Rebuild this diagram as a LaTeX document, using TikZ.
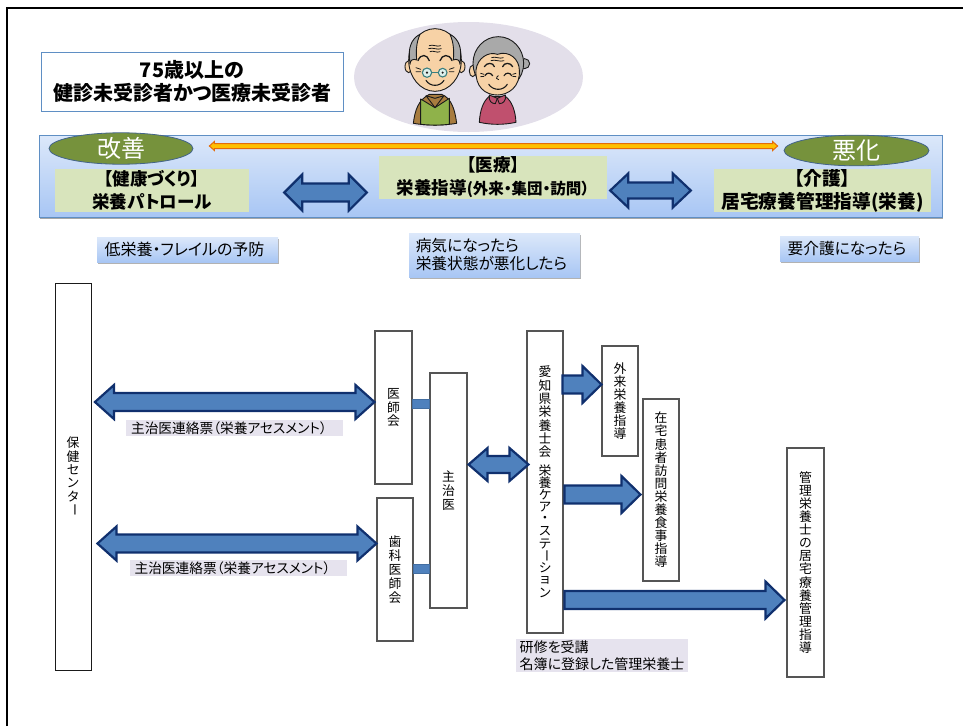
\documentclass[tikz,border=0pt]{standalone}
\usepackage{fontspec}
\setmainfont[RawFeature={+palt}]{Noto Sans CJK JP}
\usetikzlibrary{calc,shadows,shapes.geometric}
\definecolor{navy}{HTML}{10306E}
\definecolor{arrowblue}{HTML}{4F81BD}
\definecolor{framegray}{HTML}{555555}
\definecolor{bandedge}{HTML}{5F8FC4}
\definecolor{greenpan}{HTML}{D8E4BC}
\definecolor{olive}{HTML}{76923C}
\definecolor{lav}{HTML}{E6E3EE}
\definecolor{ovalfill}{HTML}{E3DFEA}
\definecolor{skin}{HTML}{F7D2A6}
\definecolor{hair}{HTML}{A9A9A9}
\definecolor{ink}{HTML}{1A1A1A}
\definecolor{bandtop}{HTML}{DCE8FA}
\definecolor{bandbot}{HTML}{A8C6F4}
\definecolor{coat}{HTML}{A87C3F}
\definecolor{vest}{HTML}{8FB24A}
\definecolor{dress}{HTML}{C0506E}
\definecolor{lens}{HTML}{DDF0EC}
\definecolor{lensline}{HTML}{3A7F7F}
\definecolor{orangefill}{HTML}{FFC000}
\definecolor{orangeline}{HTML}{E46C0A}
\makeatletter
\newcommand\vs[2]{\vbox{\offinterlineskip\@tfor\vc:=#2\do{\vbox to #1pt{\vss\hbox to 18pt{\hss\vc\hss}\vss}}}}
\makeatother
\newcommand\vb{\rotatebox[origin=c]{-90}{ー}}
\newcommand\fs[1]{\fontsize{#1}{#1}\selectfont}
% style, A, dxA, B, dxB, y, shaft half, head half, head length
\newcommand\dblarrow[9]{\draw[#1] let \p1=($(#2 |- 0,#6)+(#3pt,0)$), \p2=($(#4 |- 0,#6)+(#5pt,0)$) in
 (\x1,\y1) -- (\x1+#9pt,\y1+#8pt) -- (\x1+#9pt,\y1+#7pt) -- (\x2-#9pt,\y1+#7pt) -- (\x2-#9pt,\y1+#8pt) -- (\x2,\y1)
 -- (\x2-#9pt,\y1-#8pt) -- (\x2-#9pt,\y1-#7pt) -- (\x1+#9pt,\y1-#7pt) -- (\x1+#9pt,\y1-#8pt) -- cycle;}
\newcommand\sglarrow[9]{\draw[#1] let \p1=($(#2 |- 0,#6)+(#3pt,0)$), \p2=($(#4 |- 0,#6)+(#5pt,0)$) in
 (\x1,\y1+#7pt) -- (\x2-#9pt,\y1+#7pt) -- (\x2-#9pt,\y1+#8pt) -- (\x2,\y1)
 -- (\x2-#9pt,\y1-#8pt) -- (\x2-#9pt,\y1-#7pt) -- (\x1,\y1-#7pt) -- cycle;}
\tikzset{
 x=1pt,y=-1pt,
 blockarrow/.style={fill=arrowblue,draw=navy,line width=2.2pt,line join=miter,miter limit=10},
 thinarrow/.style={fill=orangefill,draw=orangeline,line width=1pt,line join=miter},
 minilink/.style={fill=arrowblue,draw=arrowblue!85!black,line width=1.5pt},
 tallbox/.style={draw=framegray,fill=white,line width=1.1pt,inner sep=0pt,font=\fs{12.8}},
 panel/.style={fill=greenpan,inner sep=0pt,align=center,font=\bfseries\fontsize{17.5}{23}\selectfont},
 oval/.style={shape=ellipse,draw=bandedge!70!black,fill=olive,line width=.8pt,inner sep=0pt,text=white,font=\fs{24}},
 note/.style={top color=bandtop,bottom color=bandbot,inner sep=0pt,align=left,
   font=\fontsize{15.7}{20}\selectfont,drop shadow={shadow xshift=1pt,shadow yshift=-2pt,opacity=.3,fill=black}},
 lavnote/.style={fill=lav,inner sep=0pt,align=left},
 lineart/.style={draw=ink,line width=.9pt,line join=round},
 stroke/.style={draw=ink,line width=.8pt,line cap=round}
}
\begin{document}
\begin{tikzpicture}
\useasboundingbox (0,0) rectangle (963,726);
\draw[black,line width=2pt] (7,726) -- (7,8) -- (963,8);

% title and oval
\node[draw=bandedge,fill=white,line width=1pt,minimum width=302,minimum height=59,inner sep=0pt,align=center,
  font=\bfseries\fontsize{20}{23.5}\selectfont] (title) at (192,81.5) {75歳以上の\\\hspace*{1pt}健診未受診者かつ医療未受診者};
\fill[ovalfill] (468.5,77) ellipse [x radius=114.5,y radius=55];

% elderly couple, in coordinates of a 3x crop
\begin{scope}[shift={(390,15)},x=.3333pt,y=-.3333pt]
 % man: body
 \filldraw[lineart,fill=coat] (70,325) .. controls (75,285) and (85,255) .. (118,238) -- (155,238) .. controls (185,250) and (195,285) .. (200,325) .. controls (160,332) and (110,332) .. (70,325) -- cycle;
 \filldraw[lineart,fill=vest] (92,328) -- (92,252) -- (135,278) -- (178,250) -- (178,328) .. controls (150,331) and (120,331) .. (92,328) -- cycle;
 \filldraw[lineart,fill=coat] (108,242) -- (135,278) -- (162,242) -- (135,250) -- cycle;
 % man: ears and head
 \filldraw[lineart,fill=skin] (56,155) ellipse [x radius=11,y radius=18];
 \filldraw[lineart,fill=skin] (214,155) ellipse [x radius=11,y radius=18];
 \filldraw[lineart,fill=skin] (135,135) ellipse [x radius=79,y radius=94];
 \filldraw[lineart,fill=hair] (58,125) .. controls (55,85) and (75,65) .. (90,58) .. controls (78,85) and (78,110) .. (80,135) .. controls (70,130) and (60,135) .. (60,148) -- cycle;
 \filldraw[lineart,fill=hair] (212,125) .. controls (215,85) and (195,65) .. (180,58) .. controls (192,85) and (192,110) .. (190,135) .. controls (200,130) and (210,135) .. (210,148) -- cycle;
 \draw[stroke] (118,92) .. controls (128,87) and (142,97) .. (152,92);
 \draw[stroke] (116,101) .. controls (128,96) and (142,106) .. (154,101);
 \draw[stroke] (120,110) .. controls (128,105) and (142,115) .. (150,110);
 \draw[stroke,line width=1.3pt] (84,137) .. controls (92,115) and (112,118) .. (118,137);
 \draw[stroke,line width=1.3pt] (150,137) .. controls (156,118) and (178,115) .. (186,137);
 \draw[stroke] (78,158) -- (92,163) (78,170) -- (92,170) (192,158) -- (178,163) (192,170) -- (178,170);
 \filldraw[draw=lensline,line width=1.1pt,fill=lens] (111,173) circle [radius=14];
 \filldraw[draw=lensline,line width=1.1pt,fill=lens] (158,173) circle [radius=13];
 \draw[draw=lensline,line width=1pt] (125,172) -- (145,172);
 \fill[ink] (111,173) circle [radius=3.5] (158,173) circle [radius=3.5];
 \draw[stroke,line width=1.1pt] (108,196) .. controls (120,216) and (150,216) .. (162,196);
 % woman: bun, hair and body
 \filldraw[lineart,fill=hair] (404,146) circle [radius=15];
 \filldraw[lineart,fill=dress] (268,322) .. controls (270,285) and (280,258) .. (298,244) -- (346,244) .. controls (365,258) and (376,285) .. (378,322) .. controls (340,330) and (305,330) .. (268,322) -- cycle;
 \filldraw[lineart,fill=dress] (298,240) -- (322,250) -- (316,266) .. controls (305,266) and (295,258) .. (298,240) -- cycle;
 \filldraw[lineart,fill=dress] (346,240) -- (322,250) -- (328,266) .. controls (339,266) and (349,258) .. (346,240) -- cycle;
 \filldraw[lineart,fill=skin] (248,168) ellipse [x radius=10,y radius=17];
 \filldraw[lineart,fill=hair] (325,145) ellipse [x radius=76,y radius=80];
 \filldraw[lineart,fill=skin] (322,118) .. controls (360,105) and (388,135) .. (388,165) .. controls (392,215) and (355,240) .. (322,240) .. controls (285,240) and (255,215) .. (258,165) .. controls (262,130) and (295,108) .. (322,118) -- cycle;
 \draw[stroke] (305,128) .. controls (315,123) and (330,133) .. (340,128);
 \draw[stroke] (303,137) .. controls (315,132) and (330,142) .. (342,137);
 \draw[stroke,line width=1.3pt] (283,155) .. controls (290,142) and (310,142) .. (313,155);
 \draw[stroke,line width=1.3pt] (338,155) .. controls (342,142) and (362,142) .. (368,155);
 \draw[stroke,line width=1.2pt] (285,182) .. controls (290,172) and (302,172) .. (308,182);
 \draw[stroke,line width=1.2pt] (342,182) .. controls (348,172) and (360,172) .. (365,182);
 \draw[stroke] (272,175) -- (282,178) (272,185) -- (282,184) (378,175) -- (368,178) (378,185) -- (368,184);
 \draw[stroke] (325,182) .. controls (316,188) and (320,194) .. (326,194);
 \draw[stroke,line width=1.1pt] (296,208) .. controls (310,228) and (340,228) .. (352,208);
\end{scope}

% band
\node[draw=bandedge,top color=bandtop,bottom color=bandbot,line width=1pt,minimum width=903,minimum height=82,inner sep=0pt,
  drop shadow={shadow xshift=1pt,shadow yshift=-2pt,opacity=.35,fill=black}] (band) at (490.5,176) {};
\node[panel,minimum width=194,minimum height=43] (kenko) at (152,190.5) {【健康づくり】\\栄養パトロール};
\node[panel,minimum width=228,minimum height=43] (iryo) at (493,177.5) {【医療】\\栄養指導{\fontsize{15.5}{23}\selectfont(外来・集団・訪問）}};
\node[panel,minimum width=217,minimum height=43,font=\bfseries\fontsize{18.7}{23}\selectfont] (kaigo) at (822.5,190.5) {【介護】\\居宅療養管理指導(栄養)};
\node[oval,minimum width=144,minimum height=29] (kaizen) at (121,148.5) {改善};
\node[oval,minimum width=145,minimum height=29] (akka) at (856.5,150.5) {悪化};
\dblarrow{thinarrow}{kaizen.east}{16}{akka.west}{-6}{146}{2.5}{4.5}{5}
\dblarrow{blockarrow}{kenko.east}{35}{iryo.west}{-12}{192.5}{9}{18}{18}
\dblarrow{blockarrow}{iryo.east}{3}{kaigo.west}{-23}{190.5}{8}{17}{18}

% notes
\node[note,minimum width=181,minimum height=25,font=\fontsize{16}{20}\selectfont] (n1) at (187.5,249.5) {\hspace*{-6pt}低栄養・フレイルの予防};
\node[note,minimum width=171,minimum height=44,font=\fontsize{15.7}{18}\selectfont] (n2) at (494.5,255) {\hspace*{-6pt}病気になったら\\\hspace*{-6pt}栄養状態が悪化したら};
\node[note,minimum width=139,minimum height=25] (n3) at (849.5,248.5) {\hspace*{-5pt}要介護になったら};

% lower boxes
\node[tallbox,draw=ink,line width=.9pt,minimum width=36,minimum height=387] (hc) at (73,476.5) {\vs{13.4}{保健センタ\vb}};
\node[tallbox,minimum width=37,minimum height=153] (ishi) at (393.5,407.5) {\vs{13.6}{医師会}};
\node[tallbox,minimum width=36,minimum height=143] (shika) at (395,569.5) {\vs{14}{歯科医師会}};
\node[tallbox,minimum width=37,minimum height=235] (shuji) at (448.5,490.5) {\vs{14}{主治医}};
\node[tallbox,minimum width=36,minimum height=302] (stn) at (545,482) {\vbox{\vs{13.3}{愛知県栄養士会}\vskip5pt\vs{12.2}{栄養ケア・ステ\vb ション}}};
\node[tallbox,minimum width=36,minimum height=110] (gai) at (620,401) {\vs{13.1}{外来栄養指導}};
\node[tallbox,minimum width=36,minimum height=182] (zai) at (661,490) {\vs{13.1}{在宅患者訪問栄養食事指導}};
\node[tallbox,minimum width=37,minimum height=229] (kan) at (805.5,562.5) {\vs{13.1}{管理栄養士の居宅療養管理指導}};

% lower connectors
\dblarrow{blockarrow}{hc.east}{3.5}{ishi.west}{0}{402}{9}{17}{19}
\dblarrow{blockarrow}{hc.east}{6}{shika.west}{0}{543.5}{9}{17}{19}
\dblarrow{blockarrow}{shuji.east}{1}{stn.west}{2}{464.5}{8.5}{16.5}{19}
\draw[minilink] (ishi.east |- 0,399.5) rectangle (shuji.west |- 0,408.5);
\draw[minilink] (shika.east |- 0,564.5) rectangle (shuji.west |- 0,573.5);
\sglarrow{blockarrow}{stn.east}{-1}{gai.west}{0}{384.5}{9}{18.5}{19}
\sglarrow{blockarrow}{stn.east}{1}{zai.west}{-2}{494.5}{9}{18.5}{19}
\sglarrow{blockarrow}{stn.east}{1}{kan.west}{-2}{600}{9}{18.5}{19}

% lavender labels
\node[lavnote,minimum width=217,minimum height=16,font=\fs{13.7}] (l1) at (234.5,428) {\hspace*{-11pt}主治医連絡票（栄養アセスメント）};
\node[lavnote,minimum width=217,minimum height=16,font=\fs{13.7}] (l2) at (238.5,568) {\hspace*{-12pt}主治医連絡票（栄養アセスメント）};
\node[lavnote,minimum width=172,minimum height=33,font=\fontsize{14}{17.5}\selectfont] (l3) at (602,655.5) {研修を受講\\名簿に登録した管理栄養士};
\end{tikzpicture}
\end{document}
